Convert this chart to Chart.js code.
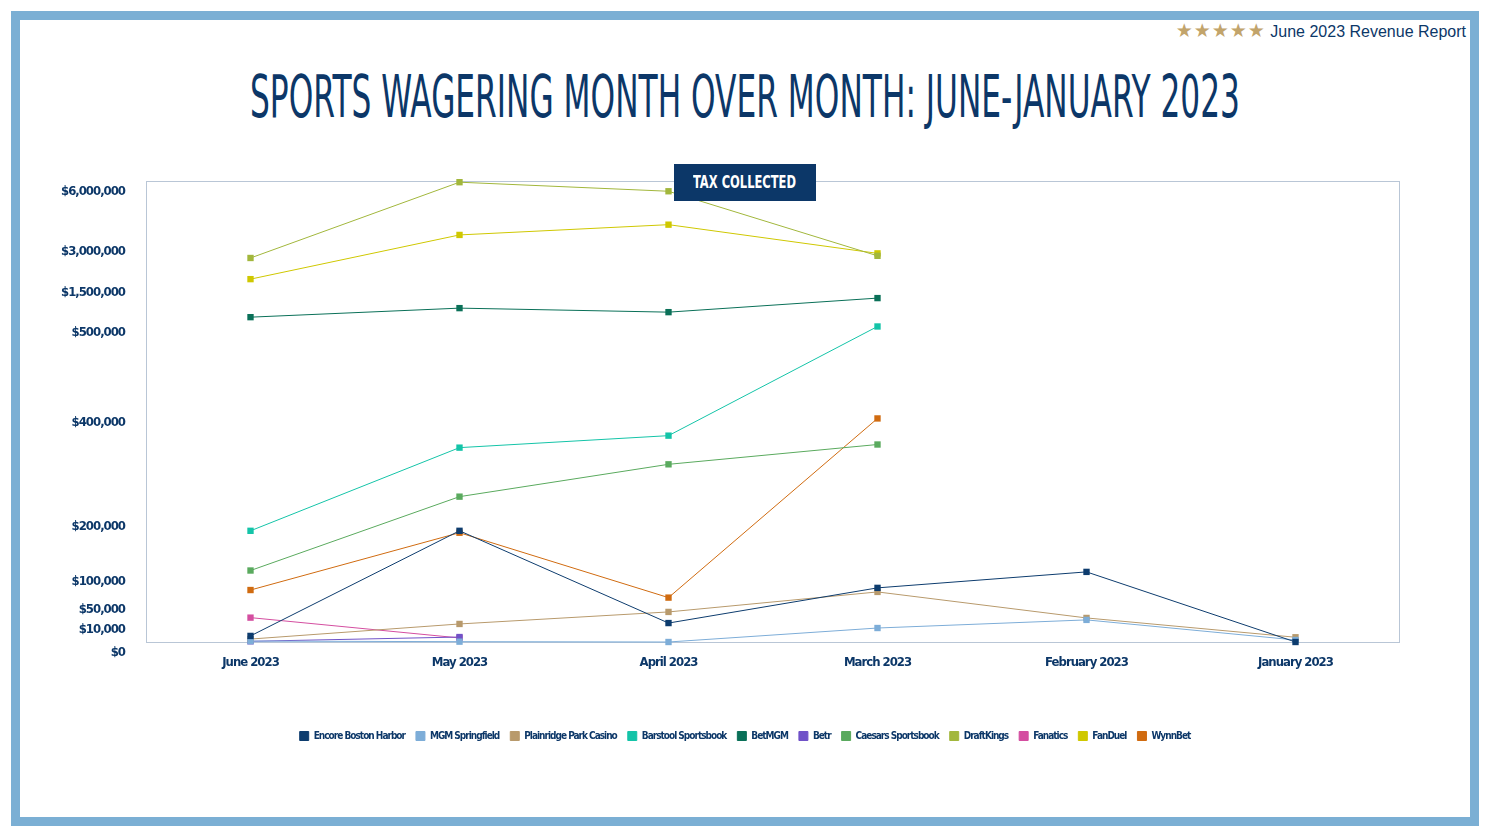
<!DOCTYPE html>
<html>
<head>
<meta charset="utf-8">
<script src="https://cdn.jsdelivr.net/npm/chart.js@4.4.0/dist/chart.umd.min.js"></script>
<style>
  html, body { margin: 0; padding: 0; background: #fff; }
  body { width: 1490px; height: 838px; position: relative; overflow: hidden; color: #0c3768;
         font-family: "Liberation Sans Narrow", "DejaVu Sans Condensed", sans-serif; }
  #frame { position: absolute; left: 11px; top: 11px; width: 1450px; height: 797px; border: 9px solid #7bafd4; }
  #header { position: absolute; right: 24px; top: 20px; line-height: 20px; font-size: 16px;
            font-family: "Liberation Sans", sans-serif; white-space: nowrap; }
  #header .stars { color: #c2a46b; font-family: "DejaVu Sans", sans-serif; font-size: 19px; letter-spacing: 1px; }
  #title { position: absolute; left: 0; top: 68px; font-size: 58px; line-height: 58px; white-space: nowrap;
           transform-origin: 0 0; }
  #chartBox { position: absolute; left: 20px; top: 160px; width: 1450px; height: 591px; }
  #taxBox { position: absolute; left: 674px; top: 164px; width: 142px; height: 37px; background: #0c3768;
            color: #fff; text-align: center; line-height: 37px; z-index: 2; }
  #taxBox span { display: inline-block; font-weight: bold; font-size: 17px; white-space: nowrap; transform-origin: center; }
</style>
</head>
<body>
<div id="frame"></div>
<div id="header"><span class="stars">★★★★★</span> June 2023 Revenue Report</div>
<div id="title">SPORTS WAGERING MONTH OVER MONTH: JUNE-JANUARY 2023</div>
<div id="taxBox"><span>TAX COLLECTED</span></div>
<div id="chartBox"><canvas id="chart"></canvas></div>

<script>
// Data
const months = ["June 2023", "May 2023", "April 2023", "March 2023", "February 2023", "January 2023"];
const yTickValues = [0, 10000, 50000, 100000, 200000, 400000, 500000, 1500000, 3000000, 6000000];

const encoreBostonHarbor = [2700, 174000, 8400, 70000, 99500, 0];
const mgmSpringfield = [400, 150, 0, 6200, 9800, 900];
const plainridgeParkCasino = [1300, 8000, 24500, 62500, 12900, 2100];
const barstoolSportsbook = [174000, 332000, 355000, 495000, null, null];
const betMGM = [620000, 845000, 745000, 1095000, null, null];
const betr = [300, 2200, null, null, null, null];
const caesarsSportsbook = [102000, 238000, 300000, 338000, null, null];
const draftKings = [2380000, 5930000, 5480000, 2460000, null, null];
const fanatics = [13500, 1800, null, null, null, null];
const fanDuel = [1600000, 3310000, 3820000, 2550000, null, null];
const wynnBet = [66000, 170500, 52000, 388000, null, null];

const NAVY = "#0c3768";
const FONT = "'Liberation Sans Narrow', 'DejaVu Sans Condensed', sans-serif";

// title: squeeze to the width of the original and centre it on the page
const title = document.getElementById("title");
const titleW = title.getBoundingClientRect().width;
const k = 990 / titleW;
title.style.transform = "scaleX(" + k + ")";
title.style.left = (745 - (titleW * k) / 2) + "px";

const tax = document.querySelector("#taxBox span");
tax.style.transform = "scaleX(" + (103 / tax.getBoundingClientRect().width) + ")";

// The axis in the picture is not linear: each tick gets its own height
const yStops = [0, 0.0489, 0.0939, 0.1526, 0.2722, 0.4983, 0.6939, 0.7809, 0.8691, 1];

function valueToDecimal(v) {
  if (v <= yTickValues[0]) return 0;
  for (let i = 1; i < yTickValues.length; i++) {
    if (v <= yTickValues[i]) {
      const t = (v - yTickValues[i - 1]) / (yTickValues[i] - yTickValues[i - 1]);
      return yStops[i - 1] + t * (yStops[i] - yStops[i - 1]);
    }
  }
  return 1;
}

function decimalToValue(d) {
  for (let i = 1; i < yStops.length; i++) {
    if (d <= yStops[i]) {
      const t = (d - yStops[i - 1]) / (yStops[i] - yStops[i - 1]);
      return yTickValues[i - 1] + t * (yTickValues[i] - yTickValues[i - 1]);
    }
  }
  return yTickValues[yTickValues.length - 1];
}

const BaseLinear = Chart.LinearScale || Chart.registry.getScale("linear");
class SteppedScale extends BaseLinear {
  buildTicks() {
    return yTickValues.map((v) => ({ value: v }));
  }
  getPixelForValue(value) {
    return this.getPixelForDecimal(valueToDecimal(value));
  }
  getValueForPixel(pixel) {
    return decimalToValue(this.getDecimalForPixel(pixel));
  }
}
SteppedScale.id = "stepped";
SteppedScale.defaults = BaseLinear.defaults;
Chart.register(SteppedScale);

// thin frame round the plot area
const plotBorder = {
  id: "plotBorder",
  beforeDatasetsDraw(chart) {
    const { ctx, chartArea: a } = chart;
    ctx.save();
    ctx.strokeStyle = "#b9c6d6";
    ctx.lineWidth = 1;
    ctx.strokeRect(Math.round(a.left) + 0.5, Math.round(a.top) + 0.5,
                   Math.round(a.width) - 1, Math.round(a.height));
    ctx.restore();
  },
};

// no condensed face like the original's, so tighten the letters a bit
const tightText = {
  id: "tightText",
  beforeUpdate(chart) { chart.ctx.letterSpacing = "-1px"; },
  beforeLayout(chart) { chart.ctx.letterSpacing = "-1px"; },
  beforeDraw(chart) { chart.ctx.letterSpacing = "-1px"; },
};

function series(label, data, color) {
  return {
    label: label,
    data: data,
    borderColor: color,
    backgroundColor: color,
    borderWidth: 1,
    pointStyle: "rect",
    pointRadius: 4.5,
    pointBorderWidth: 0,
    pointBackgroundColor: color,
    tension: 0,
    spanGaps: false,
    clip: false,
  };
}

const datasets = [
  series("Encore Boston Harbor", encoreBostonHarbor, "#0d3c6e"),
  series("MGM Springfield", mgmSpringfield, "#7dadd8"),
  series("Plainridge Park Casino", plainridgeParkCasino, "#b89a6c"),
  series("Barstool Sportsbook", barstoolSportsbook, "#14c4a8"),
  series("BetMGM", betMGM, "#0a7058"),
  series("Betr", betr, "#7052c8"),
  series("Caesars Sportsbook", caesarsSportsbook, "#5aaa5e"),
  series("DraftKings", draftKings, "#a2b73c"),
  series("Fanatics", fanatics, "#d44ea0"),
  series("FanDuel", fanDuel, "#cfc800"),
  series("WynnBet", wynnBet, "#d06b10"),
];

new Chart(document.getElementById("chart"), {
  type: "line",
  data: { labels: months, datasets: datasets },
  options: {
    responsive: true,
    maintainAspectRatio: false,
    animation: false,
    layout: { padding: { top: 14, right: 0, left: 0, bottom: 0 } },
    plugins: {
      tooltip: { enabled: false },
      legend: {
        position: "bottom",
        labels: {
          boxWidth: 9,
          boxHeight: 9,
          padding: 11,
          color: NAVY,
          font: { family: FONT, size: 10, weight: "bold" },
        },
      },
    },
    scales: {
      x: {
        type: "category",
        offset: true,
        grid: { display: false },
        border: { display: false },
        afterFit: (s) => { s.height = 78; },
        ticks: {
          color: NAVY,
          padding: 5,
          maxRotation: 0,
          autoSkip: false,
          font: { family: FONT, size: 13, weight: "bold" },
        },
      },
      y: {
        type: "stepped",
        min: 0,
        max: 6000000,
        grid: { display: false },
        border: { display: false },
        afterFit: (s) => { s.width = 126; },
        ticks: {
          color: NAVY,
          padding: 13,
          labelOffset: 10.5,
          font: { family: FONT, size: 13, weight: "bold" },
          callback: (v) => "$" + Number(v).toLocaleString("en-US"),
        },
      },
      // empty right-hand gutter, so the legend stays centred on the page
      gutter: {
        type: "linear",
        position: "right",
        grid: { display: false },
        border: { display: false },
        ticks: { display: false },
        afterFit: (s) => { s.width = 70; },
      },
    },
  },
  plugins: [plotBorder, tightText],
});
</script>
</body>
</html>
